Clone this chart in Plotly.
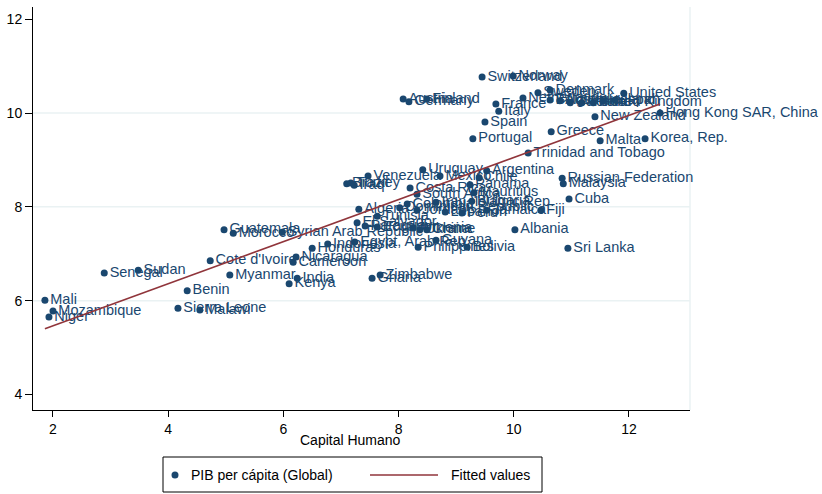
import numpy as np
import plotly.graph_objects as go

# Country, human capital index and log GDP per capita
countries = [
    "Switzerland", "Norway", "Austria", "Germany", "Finland", "France", "Italy",
    "Spain", "Portugal", "Netherlands", "Sweden", "Denmark", "Belgium", "Australia",
    "Canada", "Ireland", "United Kingdom", "Iceland", "Japan", "United States",
    "Hong Kong SAR, China", "New Zealand", "Greece", "Malta", "Korea, Rep.",
    "Trinidad and Tobago", "Venezuela", "Uruguay", "Mexico", "Argentina", "Chile",
    "Brazil", "Turkey", "Iraq", "Costa Rica", "South Africa", "Panama", "Mauritius",
    "Iran, Islamic Rep.", "Bulgaria", "Fiji", "Algeria", "Dominican Republic",
    "Colombia", "Tunisia", "Jordan", "Lebanon", "Peru", "Jamaica", "El Salvador",
    "Paraguay", "Ecuador", "Armenia", "Ukraine", "China", "Syrian Arab Republic",
    "Morocco", "Guatemala", "Albania", "Indonesia", "Honduras", "Egypt, Arab Rep.",
    "Guyana", "Philippines", "Bolivia", "Sri Lanka", "Russian Federation",
    "Malaysia", "Cuba", "Nicaragua", "Cameroon", "Cote d'Ivoire", "Myanmar",
    "India", "Kenya", "Benin", "Ghana", "Zimbabwe", "Mali", "Mozambique", "Niger",
    "Senegal", "Sudan", "Sierra Leone", "Malawi",
]

capital_humano = [
    9.45, 9.99, 8.08, 8.18, 8.49, 9.69, 9.74,
    9.50, 9.29, 10.16, 10.42, 10.63, 10.63, 10.80,
    10.98, 11.18, 11.38, 11.55, 11.76, 11.91,
    12.54, 11.41, 10.65, 11.50, 12.28,
    10.25, 7.47, 8.42, 8.72, 9.53, 9.40,
    7.10, 7.17, 7.23, 8.20, 8.32, 9.24, 9.31,
    8.65, 9.27, 10.47, 7.31, 8.02,
    8.15, 7.63, 8.32, 8.81, 9.10, 9.53, 7.28,
    7.42, 7.63, 8.25, 8.37, 8.49, 5.98,
    5.13, 4.97, 10.02, 6.77, 6.50, 7.24,
    8.65, 8.34, 9.19, 10.94, 10.84,
    10.86, 10.96, 6.22, 6.17, 4.73, 5.07,
    6.24, 6.10, 4.33, 7.54, 7.68, 1.86, 2.00, 1.93,
    2.89, 3.48, 4.17, 4.55,
]

pib_pc = [
    10.77, 10.79, 10.30, 10.24, 10.30, 10.19, 10.04,
    9.81, 9.45, 10.32, 10.43, 10.49, 10.28, 10.26,
    10.22, 10.22, 10.22, 10.26, 10.28, 10.42,
    10.00, 9.92, 9.60, 9.41, 9.45,
    9.15, 8.66, 8.79, 8.66, 8.77, 8.62,
    8.49, 8.51, 8.46, 8.40, 8.27, 8.47, 8.30,
    8.10, 8.12, 7.93, 7.95, 7.98,
    8.06, 7.80, 7.93, 7.89, 7.87, 7.93, 7.66,
    7.59, 7.57, 7.55, 7.51, 7.51, 7.46,
    7.44, 7.51, 7.51, 7.21, 7.12, 7.25,
    7.29, 7.14, 7.14, 7.12, 8.61,
    8.49, 8.17, 6.93, 6.82, 6.85, 6.55,
    6.48, 6.36, 6.21, 6.48, 6.55, 6.01, 5.78, 5.65,
    6.59, 6.65, 5.84, 5.80,
]

x_ticks = [2, 4, 6, 8, 10, 12]
y_ticks = [4, 6, 8, 10, 12]
y_grid = [6, 8, 10]
legend_labels = ["PIB per cápita (Global)", "Fitted values"]

NAVY = "#1a476f"
MAROON = "#90353b"
GRID = "#eaf2f3"
FONT = "Liberation Sans, Arial, sans-serif"

# Plot-area geometry in pixels (used to place the legend box below the axis)
W, H = 822, 494
L, R, T, B = 33, 132, 7, 84
PW, PH = W - L - R, H - T - B


def px_x(p):
    return (p - L) / PW


def px_y(p):
    return (H - B - p) / PH


# Linear fit over the observed range
slope, intercept = np.polyfit(capital_humano, pib_pc, 1)
x_fit = np.array([min(capital_humano), max(capital_humano)])
y_fit = intercept + slope * x_fit

fig = go.Figure()

fig.add_trace(go.Scatter(
    x=capital_humano, y=pib_pc, text=countries,
    mode="markers+text", textposition="middle right",
    textfont=dict(family=FONT, size=14.5, color=NAVY),
    marker=dict(color=NAVY, size=7),
    name=legend_labels[0], cliponaxis=False, showlegend=False,
))

fig.add_trace(go.Scatter(
    x=x_fit, y=y_fit, mode="lines",
    line=dict(color=MAROON, width=1.6),
    name=legend_labels[1], showlegend=False,
))

shapes = [
    dict(type="line", xref="paper", x0=0, x1=1, yref="y", y0=g, y1=g,
         line=dict(color=GRID, width=1.5), layer="below")
    for g in y_grid
]
shapes.append(dict(type="line", xref="paper", x0=1, x1=1, yref="paper", y0=0, y1=1,
                   line=dict(color=GRID, width=1.5), layer="below"))

# Legend box with its two keys
leg_y = 475
shapes += [
    dict(type="rect", xref="paper", yref="paper",
         x0=px_x(163), x1=px_x(542), y0=px_y(492), y1=px_y(457),
         line=dict(color="black", width=1), fillcolor="white"),
    dict(type="circle", xref="paper", yref="paper",
         x0=px_x(171.5), x1=px_x(178.5), y0=px_y(leg_y + 3.5), y1=px_y(leg_y - 3.5),
         line=dict(color=NAVY, width=0), fillcolor=NAVY),
    dict(type="line", xref="paper", yref="paper",
         x0=px_x(370), x1=px_x(438), y0=px_y(leg_y), y1=px_y(leg_y),
         line=dict(color=MAROON, width=1.6)),
]

annotations = [
    dict(text="Capital Humano", xref="paper", yref="paper",
         x=px_x(350), y=0, yshift=-20, yanchor="top", showarrow=False,
         font=dict(family=FONT, size=14, color="black")),
    dict(text=legend_labels[0], xref="paper", yref="paper",
         x=px_x(189), y=px_y(leg_y), xanchor="left", yanchor="middle",
         showarrow=False, font=dict(family=FONT, size=14, color="black")),
    dict(text=legend_labels[1], xref="paper", yref="paper",
         x=px_x(449), y=px_y(leg_y), xanchor="left", yanchor="middle",
         showarrow=False, font=dict(family=FONT, size=14, color="black")),
]

fig.update_layout(
    width=W, height=H,
    margin=dict(l=L, r=R, t=T, b=B),
    paper_bgcolor="white", plot_bgcolor="white",
    font=dict(family=FONT, size=14, color="black"),
    shapes=shapes,
    annotations=annotations,
    showlegend=False,
)

fig.update_xaxes(
    range=[1.653, 13.06], tickvals=x_ticks, showgrid=False, zeroline=False,
    showline=True, linecolor="black", linewidth=1,
    ticks="outside", ticklen=6, tickcolor="black",
    tickfont=dict(family=FONT, size=14, color="black"),
)
fig.update_yaxes(
    range=[3.67, 12.26], tickvals=y_ticks, showgrid=False, zeroline=False,
    showline=True, linecolor="black", linewidth=1,
    ticks="outside", ticklen=7, tickcolor="black",
    tickfont=dict(family=FONT, size=14, color="black"),
)

fig.write_html("out.html")
